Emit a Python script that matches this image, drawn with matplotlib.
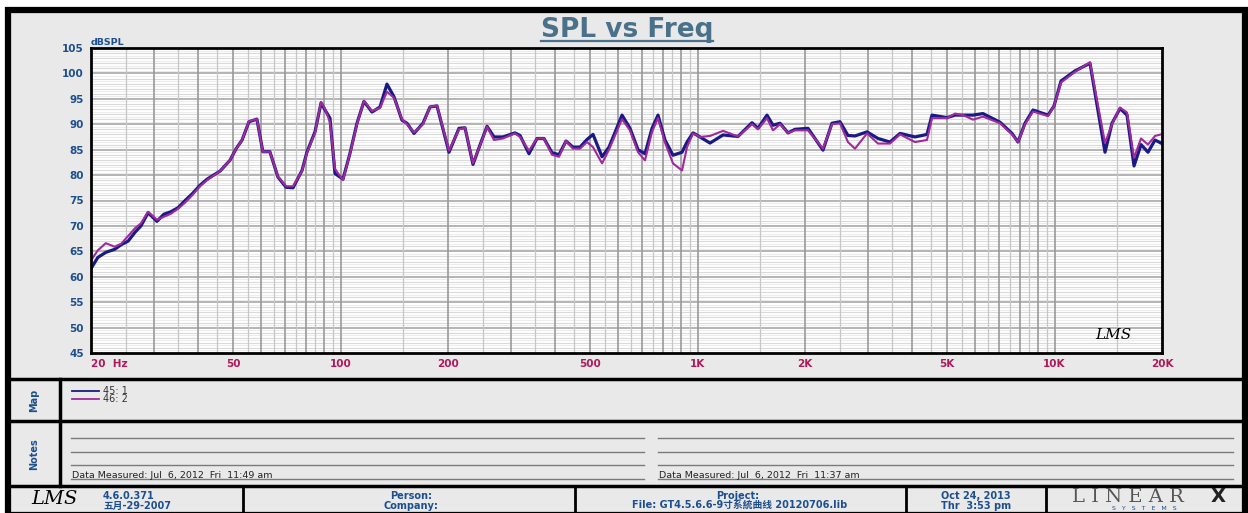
import matplotlib
matplotlib.use("Agg")
import matplotlib.pyplot as plt
import numpy as np
from matplotlib.patches import Rectangle
from matplotlib.lines import Line2D

# frequency points (Hz)
freq = [20, 20.9, 22.0, 23.3, 24.3, 25.4, 26.6, 27.6, 28.9, 30.6, 32.0, 33.5, 35.1,
        36.7, 38.4, 40.4, 42.3, 46.0, 49.0, 51.0, 53.0, 55.4, 58.3, 60.6, 63.4,
        66.8, 70.4, 73.6, 78.0, 80.5, 84.8, 88.2, 90.5, 93.4, 96.5, 101.6, 106.3,
        111.2, 116.3, 122.5, 129.0, 134.9, 141.2, 148.6, 153.5, 160.6, 170.2,
        178.1, 186.3, 201.3, 214.7, 223.2, 235.0, 245.8, 257.2, 269.1, 285.1,
        308, 318.2, 337.2, 355, 371.4, 391.2, 409.2, 428.2, 447.8, 468.6, 490.2,
        509.6, 540.2, 565, 614.4, 646.8, 681.2, 712.6, 745.6, 775, 810.6, 853.8,
        904.8, 934.4, 971.4, 1016, 1084, 1179, 1298, 1421, 1477, 1565, 1627,
        1702, 1792, 1875, 2039, 2246, 2380, 2506, 2638, 2761, 2984, 3203, 3460,
        3692, 4066, 4393, 4537, 4998, 5263, 5542, 5912, 6304, 7034, 7600, 7900,
        8266, 8704, 9588, 9966, 10426, 11410, 12570, 13848, 14488, 15256, 15960,
        16698, 17468, 18274, 19118, 19872]

# curve "45: 1" (blue)
spl_45 = [61.6, 63.8, 64.8, 65.4, 66.3, 67.0, 68.8, 70.0, 72.6, 70.9, 72.3, 72.8, 73.6,
          75.0, 76.3, 78.0, 79.2, 80.8, 82.9, 85.2, 86.9, 90.5, 91.0, 84.6, 84.6,
          79.6, 77.6, 77.5, 80.9, 84.5, 88.5, 94.2, 92.8, 91.2, 80.3, 79.2, 84.3,
          90.2, 94.5, 92.4, 93.4, 97.9, 95.4, 90.8, 90.2, 88.2, 90.2,
          93.4, 93.6, 84.5, 89.2, 89.3, 82.1, 85.9, 89.6, 87.5, 87.5,
          88.3, 87.8, 84.2, 87.2, 87.2, 84.4, 84.0, 86.7, 85.5, 85.5, 87.0,
          88.0, 83.6, 85.5, 91.8, 89.2, 85.0, 84.2, 89.2, 91.8, 86.9, 83.9,
          84.5, 86.5, 88.3, 87.5, 86.3, 87.9, 87.6, 90.3, 89.2, 91.8, 89.8,
          90.2, 88.3, 89.0, 89.2, 84.9, 90.2, 90.5, 87.8, 87.7, 88.5, 87.2, 86.5,
          88.2, 87.5, 88.0, 91.8, 91.3, 91.8, 91.8, 91.8, 92.1, 90.4, 88.2, 86.5,
          90.2, 92.8, 91.8, 93.6, 98.5, 100.5, 102.0, 84.5, 90.2, 93.1, 91.8,
          81.8, 86.0, 84.5, 86.9, 86.3]

# curve "46: 2" (purple)
spl_46 = [63.2, 65.2, 66.6, 65.9, 66.5, 68.0, 69.6, 70.5, 72.8, 71.2, 71.8, 72.4, 73.4,
          74.6, 76.0, 77.8, 79.0, 80.8, 82.9, 85.2, 86.9, 90.6, 91.0, 84.6, 84.6,
          79.7, 77.8, 77.8, 80.8, 84.3, 88.3, 94.4, 93.0, 90.4, 81.2, 79.0, 84.2,
          90.0, 94.6, 92.6, 93.2, 96.4, 95.2, 91.0, 90.0, 88.4, 90.0,
          93.4, 93.7, 84.8, 89.0, 89.3, 82.3, 85.8, 89.5, 86.9, 87.2,
          88.2, 87.5, 84.8, 87.2, 87.2, 84.0, 83.6, 86.7, 85.2, 85.2, 86.5,
          85.5, 82.3, 85.0, 91.0, 88.8, 84.5, 82.9, 88.5, 91.2, 86.4, 82.3,
          80.9, 85.5, 88.2, 87.5, 87.7, 88.7, 87.6, 90.0, 89.0, 91.2, 88.8,
          90.0, 88.3, 88.8, 88.8, 85.2, 90.0, 90.2, 86.5, 85.2, 88.2, 86.2, 86.2,
          88.0, 86.5, 86.9, 91.2, 91.2, 92.1, 91.8, 90.9, 91.5, 90.2, 88.0, 86.5,
          90.0, 92.5, 91.6, 93.6, 98.2, 100.3, 102.2, 86.3, 90.0, 93.3, 92.3,
          83.4, 87.2, 86.0, 87.7, 88.0]

xtick_vals = [20, 50, 100, 200, 500, 1000, 2000, 5000, 10000, 20000]
xtick_labels = ["20  Hz", "50", "100", "200", "500", "1K", "2K", "5K", "10K", "20K"]
ytick_vals = list(range(45, 106, 5))

W, H = 1248, 513
BLUE_TXT = "#1d4f8e"
RED_TXT = "#b3165a"
PANEL = "#e9e9e9"
CJK = ["DejaVu Sans", "Noto Sans CJK SC"]


def fx(x):
    return x / W


def fy(y):
    return 1 - y / H


fig = plt.figure(figsize=(W / 100, H / 100), dpi=100)
fig.patch.set_facecolor("white")

# outer panel
fig.add_artist(Rectangle((fx(8), fy(515)), fx(1245) - fx(8), fy(10) - fy(515),
                         transform=fig.transFigure, facecolor=PANEL,
                         edgecolor="black", linewidth=4.5, zorder=0))


def hline(y, x0, x1, lw=2.5, color="black"):
    fig.add_artist(Line2D([fx(x0), fx(x1)], [fy(y), fy(y)], color=color, lw=lw,
                          transform=fig.transFigure))


def vline(x, y0, y1, lw=2.5, color="black"):
    fig.add_artist(Line2D([fx(x), fx(x)], [fy(y0), fy(y1)], color=color, lw=lw,
                          transform=fig.transFigure))


# section dividers
hline(379, 8, 1245)
hline(421, 8, 1245)
hline(486, 8, 1245)
vline(60, 379, 486)
for xd in [243, 575, 906, 1046]:
    vline(xd, 486, 513, lw=2)

# main plot
ax = fig.add_axes([fx(91), fy(353), fx(1162) - fx(91), fy(48) - fy(353)])
ax.set_facecolor("white")
ax.set_xscale("log")
ax.set_xlim(20, 20000)
ax.set_ylim(45, 105)

# horizontal grid: fine 0.5 dB, 1 dB, and 5 dB
for v in np.arange(45.5, 105, 0.5):
    if v % 5 == 0:
        ax.axhline(v, color="#a0a0a0", lw=1.1, zorder=1.2)
    elif v % 1 == 0:
        ax.axhline(v, color="#dadada", lw=0.8, zorder=1)
    else:
        ax.axhline(v, color="#ededed", lw=0.8, zorder=1)

# vertical grid: every half step within each decade
for dec in [10, 100, 1000, 10000]:
    for m in np.arange(1.5, 10.01, 0.5):
        f = m * dec
        if 20 < f < 20000:
            dark = float(m).is_integer()
            ax.axvline(f, color="#999999" if dark else "#c6c6c6",
                       lw=1.2 if dark else 0.9, zorder=2)

ax.plot(freq, spl_45, color="#1a1a86", lw=2.3, zorder=3)
ax.plot(freq, spl_46, color="#a02a9c", lw=1.5, zorder=4)

ax.set_xticks(xtick_vals)
ax.set_xticklabels(xtick_labels)
ax.xaxis.set_minor_locator(matplotlib.ticker.NullLocator())
ax.set_yticks(ytick_vals)
ax.tick_params(axis="both", length=0)
ax.tick_params(axis="x", pad=4, labelcolor=RED_TXT, labelsize=7.5)
ax.tick_params(axis="y", pad=5, labelcolor=BLUE_TXT, labelsize=7.5)
for lab in ax.get_xticklabels() + ax.get_yticklabels():
    lab.set_fontweight("bold")
first = ax.get_xticklabels()[0]
first.set_horizontalalignment("left")
first.set_x(19.4)
for s in ax.spines.values():
    s.set_linewidth(2)
    s.set_color("black")
    s.set_zorder(5)

ax.text(0.0, 1.004, "dBSPL", transform=ax.transAxes, ha="left", va="bottom",
        color=BLUE_TXT, fontsize=6.8, fontweight="bold")
ax.text(0.955, 0.035, "LMS", transform=ax.transAxes, ha="center", va="bottom",
        fontsize=11, style="italic", family="DejaVu Serif", color="black", zorder=5)

# title with underline (figure is drawn at 100 dpi, so window px == layout px)
title = fig.text(fx(627), fy(30), "SPL vs Freq", ha="center", va="center",
                 fontsize=19, fontweight="bold", color="#4a7189")
fig.canvas.draw()
bb = title.get_window_extent()
hline(41, bb.x0, bb.x1, lw=1.6, color="#4a7189")

# map row
fig.text(fx(34), fy(400), "Map", rotation=90, ha="center", va="center",
         fontsize=7, fontweight="bold", color=BLUE_TXT)
hline(391, 72, 99, lw=1.3, color="#1a1a86")
hline(399, 72, 99, lw=1.3, color="#a02a9c")
fig.text(fx(103), fy(391), "45: 1", ha="left", va="center", fontsize=7, color="#333333")
fig.text(fx(103), fy(399), "46: 2", ha="left", va="center", fontsize=7, color="#333333")

# notes row
fig.text(fx(34), fy(454), "Notes", rotation=90, ha="center", va="center",
         fontsize=7, fontweight="bold", color=BLUE_TXT)
for yl in [438, 452, 465, 479]:
    hline(yl, 71, 644, lw=1, color="#7a7a7a")
    hline(yl, 658, 1233, lw=1, color="#7a7a7a")
fig.text(fx(72), fy(476), "Data Measured: Jul  6, 2012  Fri  11:49 am", ha="left",
         va="center", fontsize=6.8, color="#222222")
fig.text(fx(659), fy(476), "Data Measured: Jul  6, 2012  Fri  11:37 am", ha="left",
         va="center", fontsize=6.8, color="#222222")

# footer row
fig.text(fx(54), fy(499), "LMS", ha="center", va="center", fontsize=14,
         style="italic", family="DejaVu Serif", color="black")
fig.text(fx(103), fy(496), "4.6.0.371", ha="left", va="center", fontsize=7,
         fontweight="bold", color=BLUE_TXT)
fig.text(fx(103), fy(506), "五月-29-2007", ha="left", va="center", fontsize=7,
         fontweight="bold", color=BLUE_TXT, family=CJK)
fig.text(fx(411), fy(496), "Person:", ha="center", va="center", fontsize=7,
         fontweight="bold", color=BLUE_TXT)
fig.text(fx(411), fy(506), "Company:", ha="center", va="center", fontsize=7,
         fontweight="bold", color=BLUE_TXT)
fig.text(fx(738), fy(496), "Project:", ha="center", va="center", fontsize=7,
         fontweight="bold", color=BLUE_TXT)
fig.text(fx(740), fy(506), "File: GT4.5.6.6-9寸系統曲线 20120706.lib", ha="center",
         va="center", fontsize=7, fontweight="bold", color=BLUE_TXT, family=CJK)
fig.text(fx(976), fy(496), "Oct 24, 2013", ha="center", va="center", fontsize=7,
         fontweight="bold", color=BLUE_TXT)
fig.text(fx(976), fy(506), "Thr  3:53 pm", ha="center", va="center", fontsize=7,
         fontweight="bold", color=BLUE_TXT)
fig.text(fx(1128), fy(497), "L I N E A R", ha="center", va="center", fontsize=14,
         family="DejaVu Serif", color="#555555")
fig.text(fx(1218), fy(497), "X", ha="center", va="center", fontsize=14,
         fontweight="bold", color="#222222")
fig.text(fx(1144), fy(509), "S   Y   S   T   E   M   S", ha="center", va="center",
         fontsize=4.5, color=BLUE_TXT)

fig.savefig("out.png", dpi=100)
